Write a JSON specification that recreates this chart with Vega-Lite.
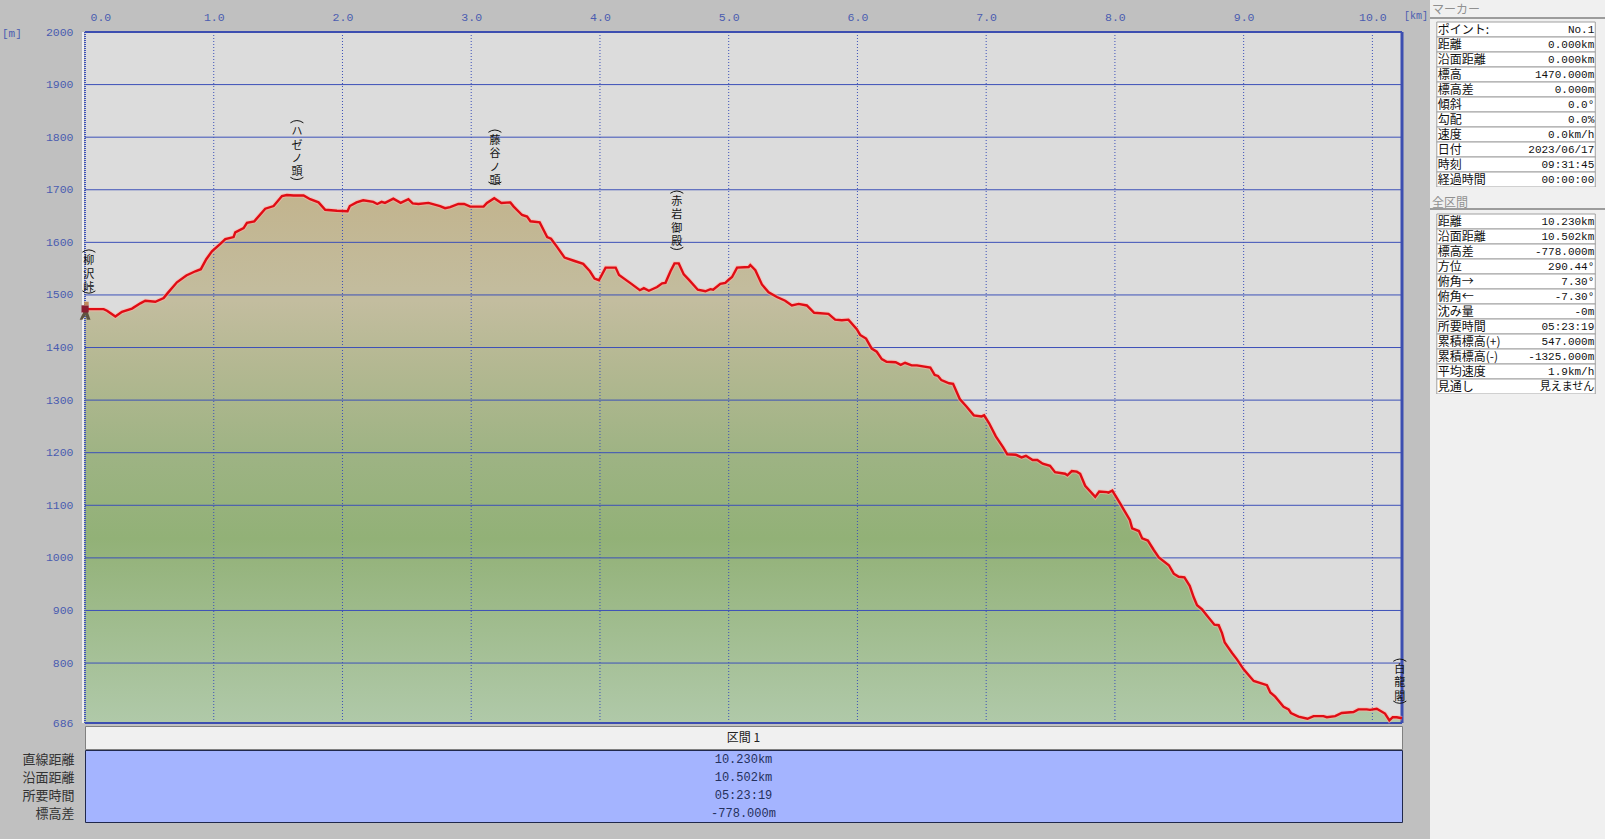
{
"$schema":"https://vega.github.io/schema/vega-lite/v6.json",
"background":"#c0c0c0",
"padding":{"left":2,"top":0,"right":0,"bottom":0},
"spacing":0,
"config":{"view":{"stroke":null},"concat":{"spacing":0},"axis":{"labelFont":"Liberation Mono, Noto Sans CJK JP"}},
"datasets":{
"profile":[
{"km":0,"m":1470},{"km":0.016,"m":1473},{"km":0.145,"m":1473},{"km":0.171,"m":1470},{"km":0.236,"m":1459},{"km":0.287,"m":1468},{"km":0.365,"m":1474},{"km":0.43,"m":1484},{"km":0.468,"m":1489},{"km":0.546,"m":1487},{"km":0.611,"m":1494},{"km":0.637,"m":1502},{"km":0.714,"m":1524},{"km":0.787,"m":1537},{"km":0.857,"m":1545},{"km":0.9,"m":1549},{"km":0.942,"m":1568},{"km":0.986,"m":1583},{"km":1.051,"m":1597},{"km":1.09,"m":1606},{"km":1.154,"m":1610},{"km":1.167,"m":1619},{"km":1.232,"m":1627},{"km":1.258,"m":1637},{"km":1.315,"m":1640},{"km":1.4,"m":1664},{"km":1.465,"m":1669},{"km":1.53,"m":1688},{"km":1.568,"m":1690},{"km":1.62,"m":1689},{"km":1.698,"m":1689},{"km":1.749,"m":1682},{"km":1.814,"m":1676},{"km":1.866,"m":1662},{"km":1.957,"m":1660},{"km":2.039,"m":1659},{"km":2.057,"m":1669},{"km":2.109,"m":1676},{"km":2.161,"m":1680},{"km":2.239,"m":1677},{"km":2.27,"m":1673},{"km":2.304,"m":1677},{"km":2.33,"m":1675},{"km":2.395,"m":1683},{"km":2.452,"m":1675},{"km":2.512,"m":1682},{"km":2.545,"m":1674},{"km":2.59,"m":1673},{"km":2.668,"m":1675},{"km":2.758,"m":1669},{"km":2.797,"m":1665},{"km":2.836,"m":1667},{"km":2.9,"m":1673},{"km":2.945,"m":1673},{"km":2.992,"m":1668},{"km":3.096,"m":1668},{"km":3.122,"m":1675},{"km":3.179,"m":1684},{"km":3.234,"m":1675},{"km":3.304,"m":1676},{"km":3.33,"m":1668},{"km":3.395,"m":1652},{"km":3.434,"m":1649},{"km":3.46,"m":1640},{"km":3.532,"m":1638},{"km":3.59,"m":1610},{"km":3.62,"m":1607},{"km":3.668,"m":1591},{"km":3.725,"m":1571},{"km":3.797,"m":1565},{"km":3.87,"m":1559},{"km":3.922,"m":1545},{"km":3.958,"m":1531},{"km":3.992,"m":1528},{"km":4.044,"m":1552},{"km":4.122,"m":1552},{"km":4.148,"m":1538},{"km":4.239,"m":1522},{"km":4.31,"m":1509},{"km":4.341,"m":1513},{"km":4.38,"m":1508},{"km":4.444,"m":1515},{"km":4.483,"m":1522},{"km":4.509,"m":1523},{"km":4.548,"m":1545},{"km":4.579,"m":1560},{"km":4.612,"m":1560},{"km":4.651,"m":1539},{"km":4.69,"m":1529},{"km":4.76,"m":1510},{"km":4.819,"m":1507},{"km":4.858,"m":1511},{"km":4.879,"m":1510},{"km":4.935,"m":1521},{"km":4.974,"m":1523},{"km":5.0,"m":1529},{"km":5.026,"m":1534},{"km":5.065,"m":1552},{"km":5.155,"m":1553},{"km":5.168,"m":1557},{"km":5.207,"m":1547},{"km":5.258,"m":1520},{"km":5.31,"m":1505},{"km":5.375,"m":1496},{"km":5.439,"m":1489},{"km":5.491,"m":1480},{"km":5.543,"m":1483},{"km":5.607,"m":1480},{"km":5.664,"m":1466},{"km":5.775,"m":1464},{"km":5.827,"m":1453},{"km":5.879,"m":1452},{"km":5.93,"m":1453},{"km":5.995,"m":1435},{"km":6.021,"m":1424},{"km":6.067,"m":1417},{"km":6.111,"m":1398},{"km":6.15,"m":1392},{"km":6.189,"m":1378},{"km":6.227,"m":1373},{"km":6.297,"m":1372},{"km":6.336,"m":1367},{"km":6.37,"m":1371},{"km":6.421,"m":1366},{"km":6.462,"m":1366},{"km":6.566,"m":1362},{"km":6.6,"m":1348},{"km":6.626,"m":1346},{"km":6.652,"m":1338},{"km":6.712,"m":1332},{"km":6.743,"m":1331},{"km":6.795,"m":1302},{"km":6.847,"m":1288},{"km":6.904,"m":1271},{"km":6.964,"m":1269},{"km":6.984,"m":1271},{"km":7.023,"m":1256},{"km":7.075,"m":1231},{"km":7.132,"m":1210},{"km":7.164,"m":1197},{"km":7.231,"m":1196},{"km":7.275,"m":1191},{"km":7.309,"m":1194},{"km":7.361,"m":1186},{"km":7.397,"m":1186},{"km":7.439,"m":1179},{"km":7.496,"m":1175},{"km":7.535,"m":1163},{"km":7.613,"m":1160},{"km":7.631,"m":1157},{"km":7.665,"m":1165},{"km":7.704,"m":1164},{"km":7.73,"m":1160},{"km":7.769,"m":1137},{"km":7.847,"m":1116},{"km":7.878,"m":1126},{"km":7.938,"m":1125},{"km":7.95,"m":1124},{"km":7.98,"m":1128},{"km":8.044,"m":1102},{"km":8.116,"m":1072},{"km":8.134,"m":1056},{"km":8.186,"m":1051},{"km":8.212,"m":1037},{"km":8.256,"m":1033},{"km":8.302,"m":1015},{"km":8.341,"m":1001},{"km":8.419,"m":986},{"km":8.457,"m":970},{"km":8.496,"m":964},{"km":8.54,"m":963},{"km":8.581,"m":947},{"km":8.612,"m":925},{"km":8.638,"m":910},{"km":8.677,"m":902},{"km":8.716,"m":890},{"km":8.773,"m":873},{"km":8.806,"m":872},{"km":8.832,"m":857},{"km":8.853,"m":839},{"km":8.91,"m":819},{"km":8.948,"m":807},{"km":9.0,"m":788},{"km":9.078,"m":766},{"km":9.181,"m":758},{"km":9.207,"m":744},{"km":9.245,"m":736},{"km":9.31,"m":717},{"km":9.349,"m":712},{"km":9.367,"m":705},{"km":9.426,"m":698},{"km":9.496,"m":694},{"km":9.543,"m":699},{"km":9.62,"m":699},{"km":9.646,"m":697},{"km":9.711,"m":699},{"km":9.762,"m":705},{"km":9.853,"m":707},{"km":9.891,"m":712},{"km":9.956,"m":712},{"km":9.982,"m":711},{"km":10.034,"m":713},{"km":10.098,"m":704},{"km":10.132,"m":691},{"km":10.158,"m":697},{"km":10.189,"m":697},{"km":10.23,"m":695}
],
"places":[
{"place":"柳|沢|峠","km":0.03,"open":1585,"top":1575,"close":1504},
{"place":"ハ|ゼ|ノ|頭","km":1.646,"open":1831,"top":1821,"close":1720},
{"place":"藤|谷|ノ|頭","km":3.184,"open":1813,"top":1804,"close":1711},
{"place":"赤|岩|御|殿","km":4.597,"open":1697,"top":1688,"close":1587},
{"place":"白|龍|閣","km":10.213,"open":807,"top":798,"close":724}
],
"kms":[{"km":1},{"km":2},{"km":3},{"km":4},{"km":5},{"km":6},{"km":7},{"km":8},{"km":9},{"km":10}],
"ms":[{"m":800},{"m":900},{"m":1000},{"m":1100},{"m":1200},{"m":1300},{"m":1400},{"m":1500},{"m":1600},{"m":1700},{"m":1800},{"m":1900}],
"section":[
{"item":"直線距離","value":"10.230km"},{"item":"沿面距離","value":"10.502km"},{"item":"所要時間","value":"05:23:19"},{"item":"標高差","value":"-778.000m"}
],
"marker":[
{"label":"ポイント:","value":"No.1"},{"label":"距離","value":"0.000km"},{"label":"沿面距離","value":"0.000km"},{"label":"標高","value":"1470.000m"},{"label":"標高差","value":"0.000m"},{"label":"傾斜","value":"0.0°"},{"label":"勾配","value":"0.0%"},{"label":"速度","value":"0.0km/h"},{"label":"日付","value":"2023/06/17"},{"label":"時刻","value":"09:31:45"},{"label":"経過時間","value":"00:00:00"}
],
"total":[
{"label":"距離","value":"10.230km"},{"label":"沿面距離","value":"10.502km"},{"label":"標高差","value":"-778.000m"},{"label":"方位","value":"290.44°"},{"label":"俯角→","value":"7.30°"},{"label":"俯角←","value":"-7.30°"},{"label":"沈み量","value":"-0m"},{"label":"所要時間","value":"05:23:19"},{"label":"累積標高(+)","value":"547.000m"},{"label":"累積標高(-)","value":"-1325.000m"},{"label":"平均速度","value":"1.9km/h"},{"label":"見通し","value":"見えません"}
]
},
"hconcat":[
{"bounds":"flush","spacing":0,"vconcat":[
 {"width":1317,"height":32,"layer":[
  {"data":{"values":[{"unit":"[km]","km":10.23}]},"mark":{"type":"text","align":"left","dx":2,"font":"Liberation Mono","fontSize":10,"color":"#4a5cb0"},"encoding":{"x":{"field":"km","type":"quantitative","scale":{"domain":[0,10.23],"nice":false},"axis":null},"text":{"field":"unit"}}},
  {"data":{"values":[{"unit":"[m]","km":0}]},"mark":{"type":"text","align":"left","dx":-83,"dy":18,"font":"Liberation Mono","fontSize":11,"color":"#4a5cb0"},"encoding":{"x":{"field":"km","type":"quantitative","axis":null},"text":{"field":"unit"}}}
 ]},
 {"width":1317,"height":691,"view":{"fill":"#dcdcdc"},
  "encoding":{
   "x":{"field":"km","type":"quantitative","scale":{"domain":[0,10.23],"nice":false},"axis":{"orient":"top","values":[0,1,2,3,4,5,6,7,8,9,10],"format":".1f","grid":false,"domain":false,"ticks":false,"labelFlush":true,"labelFlushOffset":-5,"labelPadding":10,"labelColor":"#4a5cb0","labelFontSize":11.5,"title":null}},
   "y":{"field":"m","type":"quantitative","scale":{"domain":[686,2000],"nice":false,"zero":false},"axis":{"values":[686,800,900,1000,1100,1200,1300,1400,1500,1600,1700,1800,1900,2000],"format":"d","grid":false,"domain":false,"ticks":false,"labelPadding":12,"labelColor":"#4a5cb0","labelFontSize":11.5,"title":null}}
  },
  "layer":[
  {"data":{"name":"profile"},"mark":{"type":"area","color":{"gradient":"linear","x1":0,"x2":0,"y1":0,"y2":1,"stops":[{"offset":0,"color":"#c2b48e"},{"offset":0.2,"color":"#c3bd9f"},{"offset":0.32,"color":"#b4b892"},{"offset":0.5,"color":"#9db383"},{"offset":0.65,"color":"#92b177"},{"offset":1,"color":"#b0c9a9"}]}},
   "encoding":{"y2":{"datum":686}}},
  {"data":{"name":"ms"},"mark":{"type":"rule","color":"#3c50b8","strokeWidth":1},"encoding":{"x":null}},
  {"data":{"name":"kms"},"mark":{"type":"rule","color":"#3c50b8","strokeWidth":1,"strokeDash":[1,2]},"encoding":{"y":null}},
  {"data":{"values":[{"m":2000},{"m":686}]},"mark":{"type":"rule","color":"#3c4eb0","strokeWidth":2},"encoding":{"x":null}},
  {"data":{"values":[{"km":10.23}]},"mark":{"type":"rule","color":"#3c4eb0","strokeWidth":3},"encoding":{"y":null}},
  {"data":{"values":[{"km":0}]},"mark":{"type":"rule","color":"#ffffff","strokeWidth":1.5,"xOffset":-2},"encoding":{"y":null}},
  {"data":{"values":[{"km":0}]},"mark":{"type":"rule","color":"#3c50b8","strokeWidth":2,"strokeDash":[1,1]},"encoding":{"y":null}},
  {"data":{"name":"profile"},"mark":{"type":"line","color":"#ffb4a8","strokeWidth":4.5,"opacity":0.55}},
  {"data":{"name":"profile"},"mark":{"type":"line","color":"#e00c14","strokeWidth":2.4}},
  {"data":{"name":"places"},"mark":{"type":"text","baseline":"top","align":"center","lineBreak":"|","lineHeight":13.4,"font":"Noto Sans CJK JP","fontSize":11,"color":"#111111"},"encoding":{"y":{"field":"top","type":"quantitative","axis":{"title":null}},"text":{"field":"place"}}},
  {"data":{"name":"places"},"mark":{"type":"point","filled":false,"opacity":1,"size":169,"color":"#111111","strokeWidth":1,"shape":"M-1 0.3 Q0 -0.4 1 0.3"},"encoding":{"y":{"field":"open","type":"quantitative","axis":{"title":null}}}},
  {"data":{"name":"places"},"mark":{"type":"point","filled":false,"opacity":1,"size":169,"color":"#111111","strokeWidth":1,"shape":"M-1 -0.3 Q0 0.4 1 -0.3"},"encoding":{"y":{"field":"close","type":"quantitative","axis":{"title":null}}}},
  {"data":{"values":[{"km":0,"m":1470,"part":"legs"}]},"mark":{"type":"point","filled":true,"opacity":1,"size":324,"xOffset":1,"color":"#5f5440","shape":"M-0.3 0.15 H0.2 L0.5 1 H0.1 L-0.05 0.5 L-0.4 1 H-0.7 Z"}},
  {"data":{"values":[{"km":0,"m":1470,"part":"torso"}]},"mark":{"type":"point","filled":true,"opacity":1,"size":324,"xOffset":1,"color":"#8a1c30","shape":"M-0.5 -0.6 H0.3 V0.2 H-0.5 Z"}},
  {"data":{"values":[{"km":0,"m":1470,"part":"head"}]},"mark":{"type":"point","filled":true,"opacity":1,"size":324,"xOffset":1,"color":"#c08a5c","shape":"M-0.2 -1 H0.3 V-0.6 H-0.2 Z"}}
  ]},
 {"width":1317,"height":3,"data":{"values":[{"gap":""}]},"mark":{"type":"text"},"encoding":{"text":{"field":"gap"}}},
 {"width":1317,"height":23,"view":{"fill":"#f0f0f0","stroke":"#808080"},"data":{"values":[{"name":"区間 1"}]},"mark":{"type":"text","font":"Noto Sans CJK JP","fontSize":12,"color":"#222222"},"encoding":{"text":{"field":"name"}}},
 {"width":1317,"height":1,"data":{"values":[{"gap":""}]},"mark":{"type":"text"},"encoding":{"text":{"field":"gap"}}},
 {"width":1317,"height":72,"view":{"fill":"#a4b4ff","stroke":"#20284c"},"data":{"name":"section"},"mark":{"type":"text","font":"Liberation Mono, Noto Sans CJK JP","fontSize":12,"color":"#24305c"},
  "encoding":{
   "y":{"field":"item","type":"nominal","sort":null,"scale":{"paddingInner":0,"paddingOuter":0},"axis":{"title":null,"domain":false,"ticks":false,"labelPadding":11,"labelColor":"#333333","labelFont":"Noto Sans CJK JP","labelFontSize":13}},
   "text":{"field":"value"}
  }}
]},
{"bounds":"flush","spacing":0,"vconcat":[
 {"width":175,"height":22,"view":{"fill":"#f0f0f0"},"layer":[
  {"data":{"values":[{"title":"マーカー"}]},"mark":{"type":"text","align":"left","dx":2,"dy":-1,"font":"Noto Sans CJK JP","fontSize":12,"color":"#909090"},"encoding":{"x":{"datum":0,"type":"quantitative","scale":{"domain":[0,175]},"axis":null},"text":{"field":"title"}}},
  {"data":{"values":[{"b":18}]},"mark":{"type":"rule","color":"#808080","strokeWidth":1.5},"encoding":{"y":{"field":"b","type":"quantitative","scale":{"domain":[0,22],"reverse":true},"axis":null}}}
 ]},
 {"width":175,"height":165,"view":{"fill":"#f0f0f0"},"data":{"name":"marker"},
  "encoding":{"y":{"field":"label","type":"nominal","sort":null,"scale":{"paddingInner":0,"paddingOuter":0},"axis":null}},
  "layer":[
  {"mark":{"type":"rect","fill":"#ffffff","stroke":"#a0a0a0","strokeWidth":1},"encoding":{"x":{"datum":7,"type":"quantitative","scale":{"domain":[0,175]},"axis":null},"x2":{"datum":170}}},
  {"mark":{"type":"text","align":"left","font":"Noto Sans CJK JP","fontSize":12,"color":"#111111"},"encoding":{"x":{"datum":8,"type":"quantitative","axis":null},"text":{"field":"label"}}},
  {"mark":{"type":"text","align":"right","font":"Liberation Mono, Noto Sans CJK JP","fontSize":11,"color":"#111111"},"encoding":{"x":{"datum":169,"type":"quantitative","axis":null},"text":{"field":"value"}}}
 ]},
 {"width":175,"height":27,"view":{"fill":"#f0f0f0"},"layer":[
  {"data":{"values":[{"title":"全区間"}]},"mark":{"type":"text","align":"left","dx":2,"dy":2,"font":"Noto Sans CJK JP","fontSize":12,"color":"#909090"},"encoding":{"x":{"datum":0,"type":"quantitative","scale":{"domain":[0,175]},"axis":null},"text":{"field":"title"}}},
  {"data":{"values":[{"b":22}]},"mark":{"type":"rule","color":"#808080","strokeWidth":1.5},"encoding":{"y":{"field":"b","type":"quantitative","scale":{"domain":[0,27],"reverse":true},"axis":null}}}
 ]},
 {"width":175,"height":180,"view":{"fill":"#f0f0f0"},"data":{"name":"total"},
  "encoding":{"y":{"field":"label","type":"nominal","sort":null,"scale":{"paddingInner":0,"paddingOuter":0},"axis":null}},
  "layer":[
  {"mark":{"type":"rect","fill":"#ffffff","stroke":"#a0a0a0","strokeWidth":1},"encoding":{"x":{"datum":7,"type":"quantitative","scale":{"domain":[0,175]},"axis":null},"x2":{"datum":170}}},
  {"mark":{"type":"text","align":"left","font":"Noto Sans CJK JP","fontSize":12,"color":"#111111"},"encoding":{"x":{"datum":8,"type":"quantitative","axis":null},"text":{"field":"label"}}},
  {"mark":{"type":"text","align":"right","font":"Liberation Mono, Noto Sans CJK JP","fontSize":11,"color":"#111111"},"encoding":{"x":{"datum":169,"type":"quantitative","axis":null},"text":{"field":"value"}}}
 ]},
 {"width":175,"height":445,"view":{"fill":"#f0f0f0"},"data":{"values":[{"gap":""}]},"mark":{"type":"text"},"encoding":{"text":{"field":"gap"}}}
]}
]
}
